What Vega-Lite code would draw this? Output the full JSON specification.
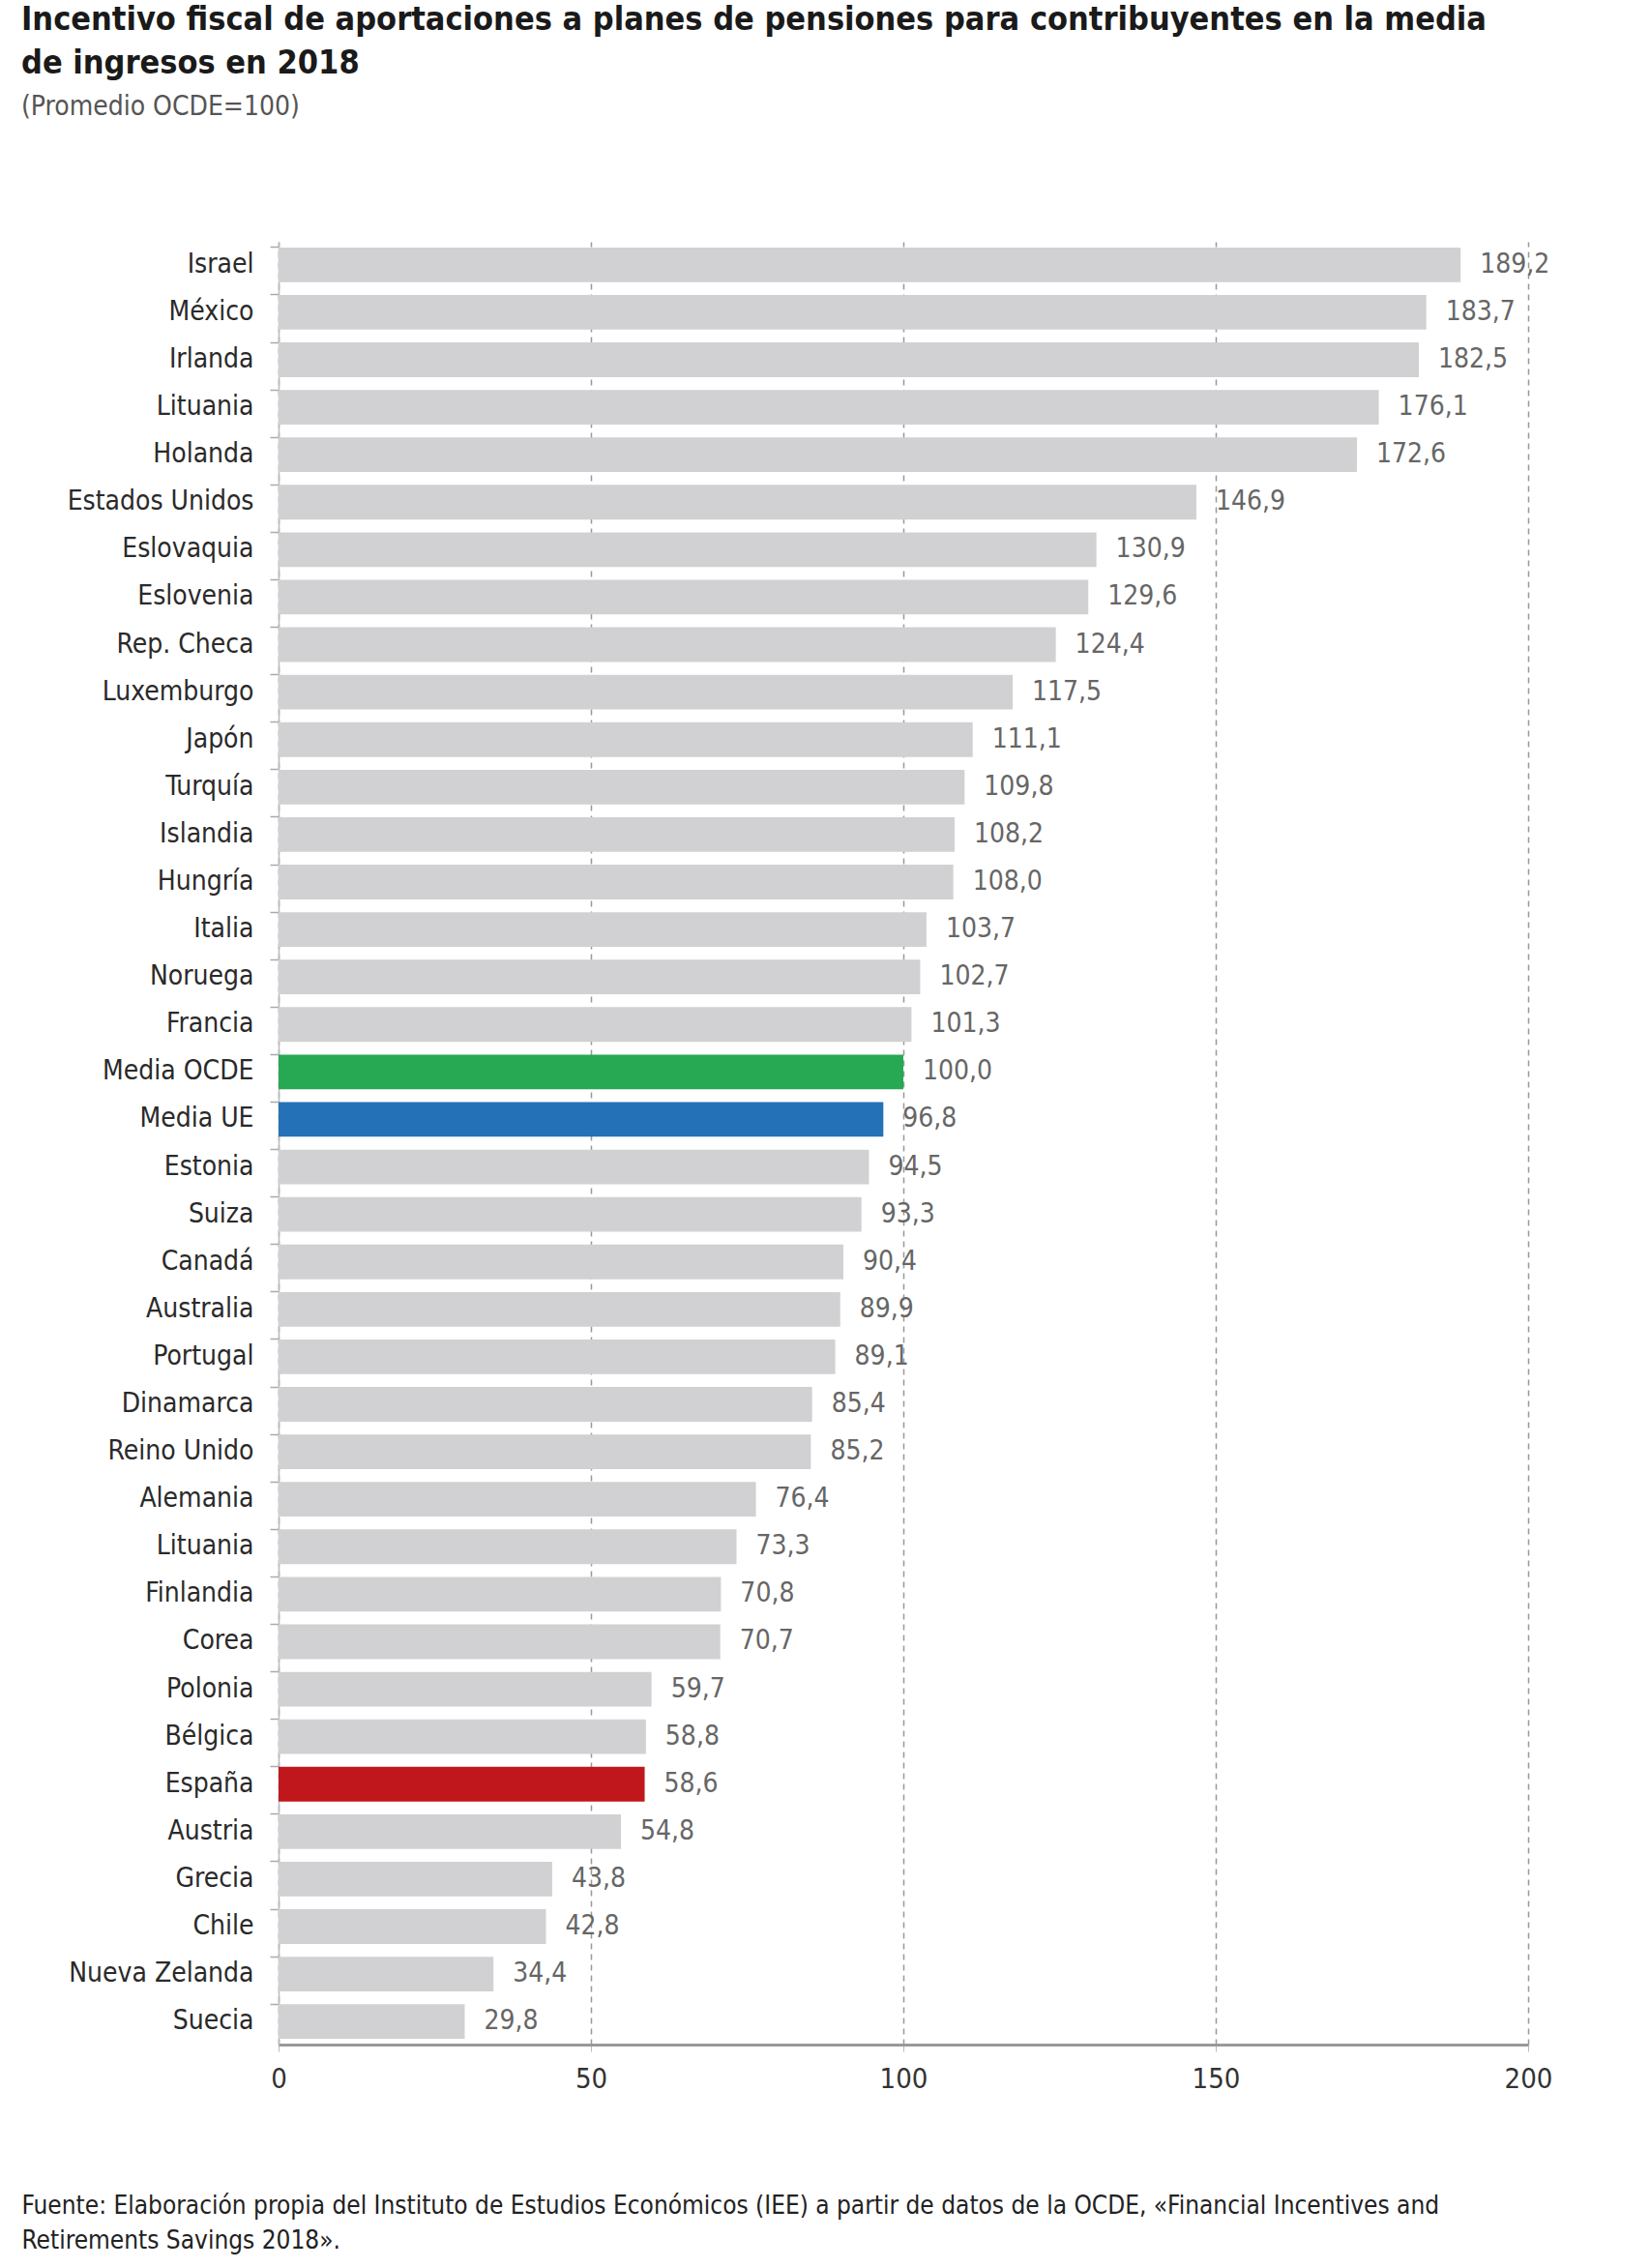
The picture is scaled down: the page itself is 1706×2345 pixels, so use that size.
{
  "$schema": "https://vega.github.io/schema/vega-lite/v6.json",
  "width": 1292,
  "height": 1864,
  "autosize": {"type": "none"},
  "padding": {"left": 288, "top": 250, "right": 126, "bottom": 231},
  "background": "white",
  "title": {
    "text": ["Incentivo fiscal de aportaciones a planes de pensiones para contribuyentes en la media", "de ingresos en 2018"],
    "subtitle": "(Promedio OCDE=100)",
    "anchor": "start",
    "frame": "group",
    "dx": -266,
    "offset": 125,
    "font": "Liberation Sans Narrow, DejaVu Sans Condensed, sans-serif",
    "fontSize": 34,
    "fontWeight": "bold",
    "color": "#1a1a1a",
    "lineHeight": 45,
    "subtitleFont": "Liberation Sans Narrow, DejaVu Sans Condensed, sans-serif",
    "subtitleFontSize": 28,
    "subtitleColor": "#555555",
    "subtitlePadding": 14
  },
  "data": {
    "values": [
      {"pais": "Israel", "valor": 189.2, "grupo": "otros"},
      {"pais": "México", "valor": 183.7, "grupo": "otros"},
      {"pais": "Irlanda", "valor": 182.5, "grupo": "otros"},
      {"pais": "Lituania", "valor": 176.1, "grupo": "otros"},
      {"pais": "Holanda", "valor": 172.6, "grupo": "otros"},
      {"pais": "Estados Unidos", "valor": 146.9, "grupo": "otros"},
      {"pais": "Eslovaquia", "valor": 130.9, "grupo": "otros"},
      {"pais": "Eslovenia", "valor": 129.6, "grupo": "otros"},
      {"pais": "Rep. Checa", "valor": 124.4, "grupo": "otros"},
      {"pais": "Luxemburgo", "valor": 117.5, "grupo": "otros"},
      {"pais": "Japón", "valor": 111.1, "grupo": "otros"},
      {"pais": "Turquía", "valor": 109.8, "grupo": "otros"},
      {"pais": "Islandia", "valor": 108.2, "grupo": "otros"},
      {"pais": "Hungría", "valor": 108.0, "grupo": "otros"},
      {"pais": "Italia", "valor": 103.7, "grupo": "otros"},
      {"pais": "Noruega", "valor": 102.7, "grupo": "otros"},
      {"pais": "Francia", "valor": 101.3, "grupo": "otros"},
      {"pais": "Media OCDE", "valor": 100.0, "grupo": "OCDE"},
      {"pais": "Media UE", "valor": 96.8, "grupo": "UE"},
      {"pais": "Estonia", "valor": 94.5, "grupo": "otros"},
      {"pais": "Suiza", "valor": 93.3, "grupo": "otros"},
      {"pais": "Canadá", "valor": 90.4, "grupo": "otros"},
      {"pais": "Australia", "valor": 89.9, "grupo": "otros"},
      {"pais": "Portugal", "valor": 89.1, "grupo": "otros"},
      {"pais": "Dinamarca", "valor": 85.4, "grupo": "otros"},
      {"pais": "Reino Unido", "valor": 85.2, "grupo": "otros"},
      {"pais": "Alemania", "valor": 76.4, "grupo": "otros"},
      {"pais": "Lituania ", "valor": 73.3, "grupo": "otros"},
      {"pais": "Finlandia", "valor": 70.8, "grupo": "otros"},
      {"pais": "Corea", "valor": 70.7, "grupo": "otros"},
      {"pais": "Polonia", "valor": 59.7, "grupo": "otros"},
      {"pais": "Bélgica", "valor": 58.8, "grupo": "otros"},
      {"pais": "España", "valor": 58.6, "grupo": "España"},
      {"pais": "Austria", "valor": 54.8, "grupo": "otros"},
      {"pais": "Grecia", "valor": 43.8, "grupo": "otros"},
      {"pais": "Chile", "valor": 42.8, "grupo": "otros"},
      {"pais": "Nueva Zelanda", "valor": 34.4, "grupo": "otros"},
      {"pais": "Suecia", "valor": 29.8, "grupo": "otros"}
    ]
  },
  "encoding": {
    "y": {
      "field": "pais",
      "type": "nominal",
      "sort": null,
      "scale": {"paddingInner": 0.27, "paddingOuter": 0.12},
      "axis": {
        "title": null,
        "bandPosition": 0,
        "domainColor": "#bbbbbb",
        "domainWidth": 1.5,
        "tickColor": "#aaaaaa",
        "tickSize": 9,
        "tickWidth": 1.5,
        "labelFont": "Liberation Sans Narrow, DejaVu Sans Condensed, sans-serif",
        "labelFontSize": 28,
        "labelColor": "#2a2a2a",
        "labelPadding": 17,
        "labelLimit": 400
      }
    },
    "x": {
      "field": "valor",
      "type": "quantitative",
      "scale": {"domain": [0, 200], "nice": false},
      "axis": {
        "values": [0, 50, 100, 150, 200],
        "grid": true,
        "gridDash": [6, 5],
        "gridColor": "#999999",
        "gridWidth": 1.5,
        "domainColor": "#999999",
        "domainWidth": 3,
        "tickColor": "#bbbbbb",
        "tickSize": 7,
        "labelFlush": false,
        "labelFont": "Liberation Sans Narrow, DejaVu Sans Condensed, sans-serif",
        "labelFontSize": 29,
        "labelColor": "#333333",
        "labelPadding": 14,
        "title": ["Fuente: Elaboración propia del Instituto de Estudios Económicos (IEE) a partir de datos de la OCDE, «Financial Incentives and", "Retirements Savings 2018»."],
        "titleFont": "Liberation Sans Narrow, DejaVu Sans Condensed, sans-serif",
        "titleFontSize": 26,
        "titleFontWeight": "normal",
        "titleColor": "#222222",
        "titleAnchor": "start",
        "titleAlign": "left",
        "titleBaseline": "top",
        "titleX": -266,
        "titleY": 153,
        "titleLineHeight": 36
      }
    }
  },
  "layer": [
    {
      "mark": {"type": "bar"},
      "encoding": {
        "color": {
          "field": "grupo",
          "type": "nominal",
          "scale": {"domain": ["otros", "OCDE", "UE", "España"], "range": ["#d1d1d3", "#27a853", "#2471b8", "#c0171c"]},
          "legend": null
        }
      }
    },
    {
      "mark": {
        "type": "text",
        "align": "left",
        "baseline": "middle",
        "dx": 20,
        "font": "Liberation Sans Narrow, DejaVu Sans Condensed, sans-serif",
        "fontSize": 28,
        "color": "#666666"
      },
      "encoding": {
        "text": {"field": "valor", "type": "quantitative", "format": ".1f"}
      }
    }
  ],
  "config": {
    "view": {"stroke": null},
    "locale": {
      "number": {"decimal": ",", "thousands": ".", "grouping": [3], "currency": ["", " €"]}
    }
  }
}
